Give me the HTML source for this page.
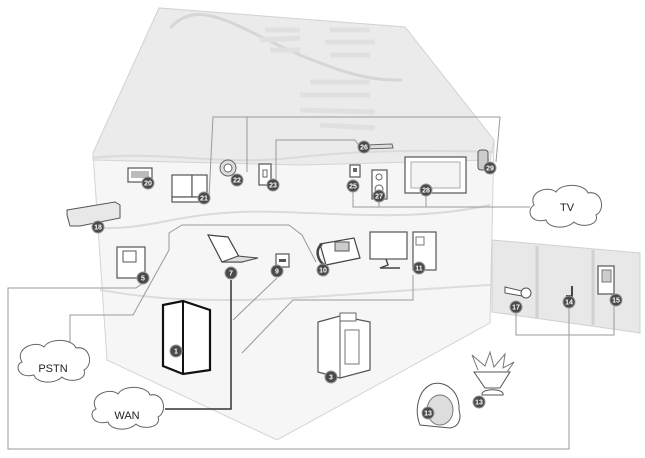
<!DOCTYPE html>
<html><head><meta charset="utf-8"><style>
html,body{margin:0;padding:0;background:#fff;}
svg{display:block;font-family:"Liberation Sans",sans-serif;}
.b circle{fill:#4a4a4a;stroke:#999;stroke-width:1}
.b text{fill:#fff;font-size:7px;font-weight:bold;text-anchor:middle}
.l{fill:none;stroke:#9a9a9a;stroke-width:1}
.d{fill:#fff;stroke:#555;stroke-width:1.2}
</style></head><body>
<svg width="645" height="458" viewBox="0 0 645 458">
<!-- house -->
<polygon points="159,8 405,27 494,140 490,323 277,440 107,360 93,153" fill="#f6f6f6" stroke="#d4d4d4"/>
<polygon points="159,8 405,27 494,140 490,160 300,165 93,160 93,153" fill="#ebebeb" stroke="#d4d4d4"/>
<path d="M93,158 C160,150 220,166 290,158 S420,150 494,152" fill="none" stroke="#dadada" stroke-width="2"/>
<path d="M170,28 C200,-5 240,30 300,55 S380,80 402,80" fill="none" stroke="#d6d6d6" stroke-width="3"/>
<path d="M265,30 L300,30 M260,40 L300,38 M270,50 L300,50 M330,30 L370,30 M325,42 L375,42 M330,55 L370,55 M310,82 L370,82 M300,95 L370,95 M300,110 L375,112 M320,125 L375,128" stroke="#e0e0e0" stroke-width="5"/>
<path d="M96,228 C150,230 170,215 240,212 S400,225 490,205" fill="none" stroke="#dadada" stroke-width="2"/>
<path d="M100,290 C160,300 190,300 240,300 S400,290 490,285" fill="none" stroke="#dcdcdc" stroke-width="2"/>
<!-- door wing -->
<polygon points="492,240 640,253 640,333 492,312" fill="#e8e8e8" stroke="#d0d0d0"/>
<line x1="537" y1="246" x2="537" y2="318" stroke="#d0d0d0" stroke-width="3"/>
<line x1="593" y1="250" x2="593" y2="325" stroke="#d0d0d0" stroke-width="3"/>

<!-- connector lines -->
<path class="l" d="M209,197 L213,117 L500,117 L496,162"/>
<path class="l" d="M247,172 L247,117"/>
<path class="l" d="M276,180 L276,140 L355,140 L360,147"/>
<path class="l" d="M353,190 L353,207 L530,207 M379,200 L379,207 M426,193 L426,207"/>
<path class="l" d="M143,283 L136,288 L8,288 L8,449 L569,449 L569,305"/>
<path class="l" d="M70,353 L70,315 L133,315 L169,250 L169,233 L182,225 L289,225 L302,235 L316,262"/>
<path class="l" d="M277,278 L233,320"/>
<path class="l" d="M413,275 L413,300 L293,300 L242,353"/>
<path class="l" d="M516,313 L516,335 L614,335 L614,306"/>
<path d="M165,409 L231,409 L231,280" fill="none" stroke="#333" stroke-width="1.5"/>

<!-- clouds -->
<g stroke="#666" fill="#fff" stroke-width="1">
<path d="M534,205 C528,192 548,185 556,192 C562,182 585,184 588,193 C602,190 606,210 596,215 C600,226 580,228 574,222 C566,230 548,228 546,220 C530,224 526,210 534,205Z"/>
<path d="M22,362 C14,348 36,340 44,347 C50,337 73,339 76,348 C90,345 94,365 84,370 C88,381 68,383 62,377 C54,385 36,383 34,375 C18,379 14,365 22,362Z"/>
<path d="M96,409 C88,395 110,387 118,394 C124,384 147,386 150,395 C164,392 168,412 158,417 C162,428 142,430 136,424 C128,432 110,430 108,422 C92,426 88,412 96,409Z"/>
</g>
<text x="567" y="211" font-size="11" text-anchor="middle" fill="#222">TV</text>
<text x="53" y="372" font-size="11" text-anchor="middle" fill="#222">PSTN</text>
<text x="127" y="419" font-size="11" text-anchor="middle" fill="#222">WAN</text>

<!-- devices -->
<rect class="d" x="128" y="168" width="24" height="14"/><rect x="131" y="171" width="18" height="7" fill="#bbb"/>
<rect class="d" x="172" y="175" width="20" height="22"/><rect class="d" x="192" y="175" width="15" height="22"/><rect class="d" x="172" y="197" width="35" height="5"/>
<circle cx="228" cy="168" r="8" fill="#ddd" stroke="#666"/><circle cx="228" cy="168" r="4" fill="#fff" stroke="#666"/>
<rect class="d" x="259" y="164" width="12" height="21"/><rect x="263" y="170" width="4" height="7" fill="none" stroke="#666"/>
<path d="M366,145 L392,144 L393,148 L366,149Z" fill="#ddd" stroke="#666"/>
<rect class="d" x="350" y="165" width="10" height="12"/><rect x="353" y="168" width="4" height="4" fill="#666"/>
<rect class="d" x="372" y="170" width="15" height="29"/><circle cx="379" cy="177" r="3" fill="none" stroke="#666"/><circle cx="379" cy="189" r="4" fill="none" stroke="#666"/>
<rect class="d" x="405" y="157" width="61" height="36" stroke-width="1.5"/><rect x="411" y="162" width="49" height="26" fill="#f4f4f4" stroke="#aaa"/>
<rect x="478" y="150" width="10" height="20" rx="3" fill="#ccc" stroke="#555"/>
<path d="M67,210 L115,202 L120,205 L120,218 L80,226 L70,226 L67,215Z" fill="#e8e8e8" stroke="#555"/>
<rect class="d" x="117" y="247" width="28" height="31"/><rect x="123" y="251" width="13" height="11" fill="none" stroke="#555"/>
<path d="M208,235 L228,237 L242,262 L222,262Z" fill="#fff" stroke="#444" stroke-width="1.2"/><path d="M222,262 L242,262 L258,258 L238,256Z" fill="#ddd" stroke="#444"/>
<rect class="d" x="276" y="254" width="13" height="13"/><rect x="279" y="259" width="7" height="3" fill="#555"/>
<path d="M320,244 L354,238 L360,258 L326,265Z" fill="#fff" stroke="#444" stroke-width="1.2"/><rect x="335" y="242" width="14" height="9" fill="#ccc" stroke="#555"/><path d="M322,244 C314,250 318,262 326,266" fill="none" stroke="#444" stroke-width="2.5"/>
<rect class="d" x="370" y="232" width="37" height="27" stroke-width="1.6"/><path d="M386,259 L388,265 L380,268 L400,268" fill="none" stroke="#444" stroke-width="1.4"/>
<rect class="d" x="413" y="232" width="23" height="38"/><rect x="416" y="237" width="8" height="8" fill="none" stroke="#777"/>
<polygon points="163,305 183,301 210,310 210,370 183,374 163,366" fill="#fff" stroke="#111" stroke-width="2.2"/><line x1="183" y1="301" x2="183" y2="374" stroke="#111" stroke-width="2"/>
<path d="M318,322 L340,316 L370,322 L370,370 L340,378 L318,372Z" fill="#fff" stroke="#555" stroke-width="1.2"/><line x1="340" y1="316" x2="340" y2="378" stroke="#555"/><rect x="340" y="313" width="16" height="8" fill="#fff" stroke="#666"/><rect x="345" y="330" width="14" height="34" fill="none" stroke="#777"/>
<path d="M420,425 C414,410 418,390 432,384 C446,380 460,392 459,410 C462,420 458,427 450,428Z" fill="#fff" stroke="#555"/><ellipse cx="440" cy="410" rx="13" ry="15" fill="#ddd" stroke="#777"/>
<path d="M474,372 L510,372 L500,388 L485,388Z" fill="#fff" stroke="#555"/><path d="M482,395 C480,388 505,388 503,395Z" fill="#fff" stroke="#555"/><path d="M478,370 L472,355 L485,366 L490,352 L494,367 L505,354 L503,368 L514,362 L507,372" fill="none" stroke="#777"/>
<path d="M505,287 L522,291 L522,296 L505,293Z" fill="#fff" stroke="#555"/><circle cx="526" cy="293" r="5" fill="#fff" stroke="#555"/>
<path d="M572,286 L572,296 L566,296" fill="none" stroke="#444" stroke-width="2"/>
<rect class="d" x="598" y="266" width="16" height="28"/><rect x="602" y="270" width="9" height="12" fill="#ccc" stroke="#777"/>

<!-- badges -->
<g class="b">
<g transform="translate(148,183)"><circle r="6"/><text y="2.5">20</text></g>
<g transform="translate(204,198)"><circle r="6"/><text y="2.5">21</text></g>
<g transform="translate(237,180)"><circle r="6"/><text y="2.5">22</text></g>
<g transform="translate(273,185)"><circle r="6"/><text y="2.5">23</text></g>
<g transform="translate(364,147)"><circle r="6"/><text y="2.5">26</text></g>
<g transform="translate(353,186)"><circle r="6"/><text y="2.5">25</text></g>
<g transform="translate(379,196)"><circle r="6"/><text y="2.5">27</text></g>
<g transform="translate(426,190)"><circle r="6"/><text y="2.5">28</text></g>
<g transform="translate(490,168)"><circle r="6"/><text y="2.5">29</text></g>
<g transform="translate(98,227)"><circle r="6"/><text y="2.5">18</text></g>
<g transform="translate(143,278)"><circle r="6"/><text y="2.5">5</text></g>
<g transform="translate(231,273)"><circle r="6"/><text y="2.5">7</text></g>
<g transform="translate(277,271)"><circle r="6"/><text y="2.5">9</text></g>
<g transform="translate(323,270)"><circle r="6"/><text y="2.5">10</text></g>
<g transform="translate(419,268)"><circle r="6"/><text y="2.5">11</text></g>
<g transform="translate(176,351)"><circle r="6"/><text y="2.5">1</text></g>
<g transform="translate(331,377)"><circle r="6"/><text y="2.5">3</text></g>
<g transform="translate(428,413)"><circle r="6"/><text y="2.5">13</text></g>
<g transform="translate(479,402)"><circle r="6"/><text y="2.5">13</text></g>
<g transform="translate(516,307)"><circle r="6"/><text y="2.5">17</text></g>
<g transform="translate(569,302)"><circle r="6"/><text y="2.5">14</text></g>
<g transform="translate(616,300)"><circle r="6"/><text y="2.5">15</text></g>
</g>
</svg>
</body></html>
